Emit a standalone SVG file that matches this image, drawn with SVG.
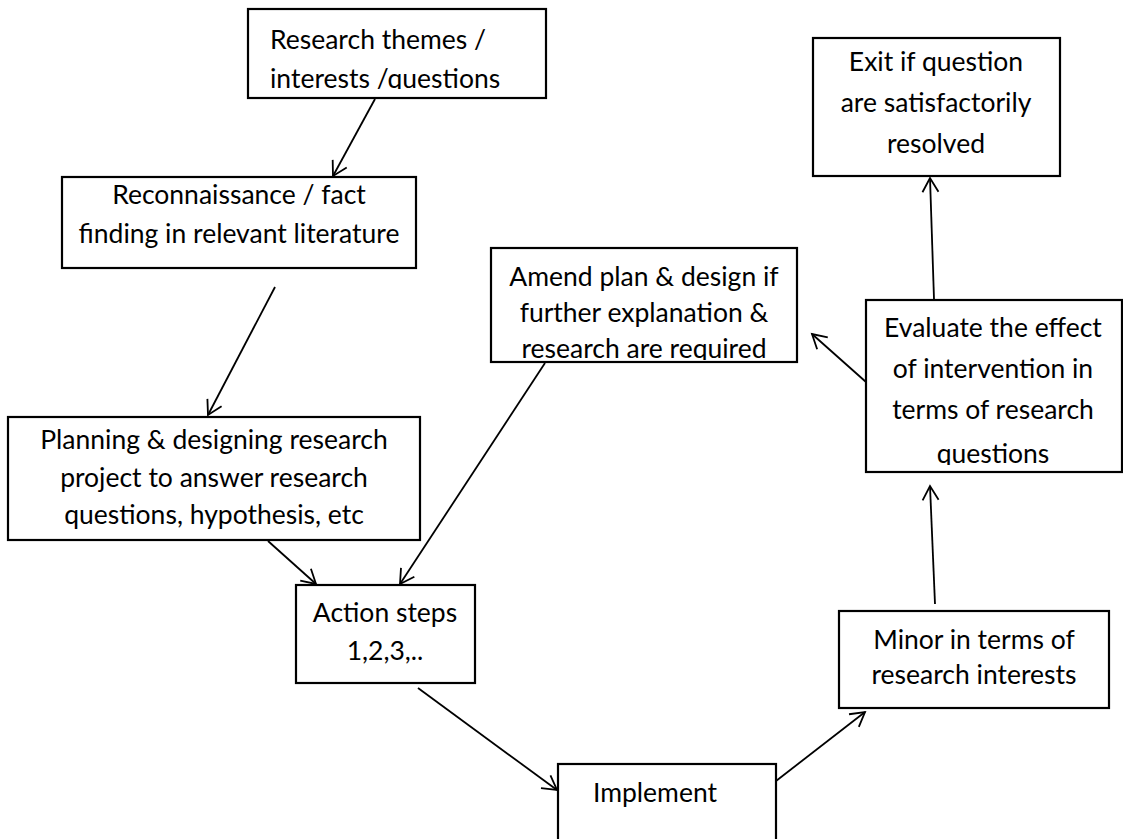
<svg xmlns="http://www.w3.org/2000/svg" width="1123" height="839" viewBox="0 0 1123 839">
<style>
.box{fill:#fff;stroke:#000;stroke-width:2.2}
.t{font-family:Lato,"Liberation Sans",sans-serif;font-size:26.5px;fill:#000;text-anchor:middle}
.tl{text-anchor:start}
.c{fill:none;stroke:#000;stroke-width:1.8}
</style>
<defs>
<marker id="ah" markerUnits="userSpaceOnUse" markerWidth="24" markerHeight="24" refX="16" refY="12" orient="auto" overflow="visible">
<path d="M2,4 L16,12 L2,20" fill="none" stroke="#000" stroke-width="1.8"/>
</marker>
<clipPath id="c1"><rect x="248" y="9" width="298" height="80"/></clipPath>
<clipPath id="c4"><rect x="491" y="248" width="306" height="112"/></clipPath>
<clipPath id="c6"><rect x="866" y="300" width="256" height="165"/></clipPath>
</defs>
<g id="connectors">
<line class="c" x1="375" y1="99" x2="333" y2="176" marker-end="url(#ah)"/>
<line class="c" x1="275" y1="287" x2="208" y2="415" marker-end="url(#ah)"/>
<line class="c" x1="268" y1="541" x2="316" y2="584" marker-end="url(#ah)"/>
<line class="c" x1="545" y1="363" x2="400" y2="584" marker-end="url(#ah)"/>
<line class="c" x1="418" y1="688" x2="557" y2="790" marker-end="url(#ah)"/>
<line class="c" x1="776" y1="781" x2="865" y2="712" marker-end="url(#ah)"/>
<line class="c" x1="935" y1="604" x2="930" y2="486" marker-end="url(#ah)"/>
<line class="c" x1="866" y1="382" x2="812" y2="334" marker-end="url(#ah)"/>
<line class="c" x1="934" y1="299" x2="930" y2="178" marker-end="url(#ah)"/>
</g>
<g id="n1">
<rect class="box" x="248" y="9" width="298" height="89"/>
<g clip-path="url(#c1)">
<text class="t tl" x="270" y="49">Research themes /</text>
<text class="t tl" x="270" y="88">interests /questions</text>
</g>
</g>
<g id="n2">
<rect class="box" x="62" y="177" width="354" height="91"/>
<text class="t" x="239" y="204">Reconnaissance / fact</text>
<text class="t" x="239" y="243">finding in relevant literature</text>
</g>
<g id="n3">
<rect class="box" x="8" y="417" width="412" height="123"/>
<text class="t" x="214" y="449">Planning &amp; designing research</text>
<text class="t" x="214" y="487">project to answer research</text>
<text class="t" x="214" y="524">questions, hypothesis, etc</text>
</g>
<g id="n4">
<rect class="box" x="491" y="248" width="306" height="114"/>
<g clip-path="url(#c4)">
<text class="t" x="644" y="286">Amend plan &amp; design if</text>
<text class="t" x="644" y="322">further explanation &amp;</text>
<text class="t" x="644" y="358">research are required</text>
</g>
</g>
<g id="n5">
<rect class="box" x="813" y="38" width="247" height="138"/>
<text class="t" x="936" y="71">Exit if question</text>
<text class="t" x="936" y="112">are satisfactorily</text>
<text class="t" x="936" y="153">resolved</text>
</g>
<g id="n6">
<rect class="box" x="866" y="300" width="256" height="172"/>
<g clip-path="url(#c6)">
<text class="t" x="993" y="337">Evaluate the effect</text>
<text class="t" x="993" y="378">of intervention in</text>
<text class="t" x="993" y="419">terms of research</text>
<text class="t" x="993" y="463">questions</text>
</g>
</g>
<g id="n7">
<rect class="box" x="839" y="611" width="270" height="97"/>
<text class="t" x="974" y="649">Minor in terms of</text>
<text class="t" x="974" y="684">research interests</text>
</g>
<g id="n8">
<rect class="box" x="296" y="585" width="179" height="98"/>
<text class="t" x="385" y="622">Action steps</text>
<text class="t" x="385" y="660">1,2,3,..</text>
</g>
<g id="n9">
<rect class="box" x="558" y="764" width="218" height="90"/>
<text class="t" x="655" y="802">Implement</text>
</g>
</svg>
